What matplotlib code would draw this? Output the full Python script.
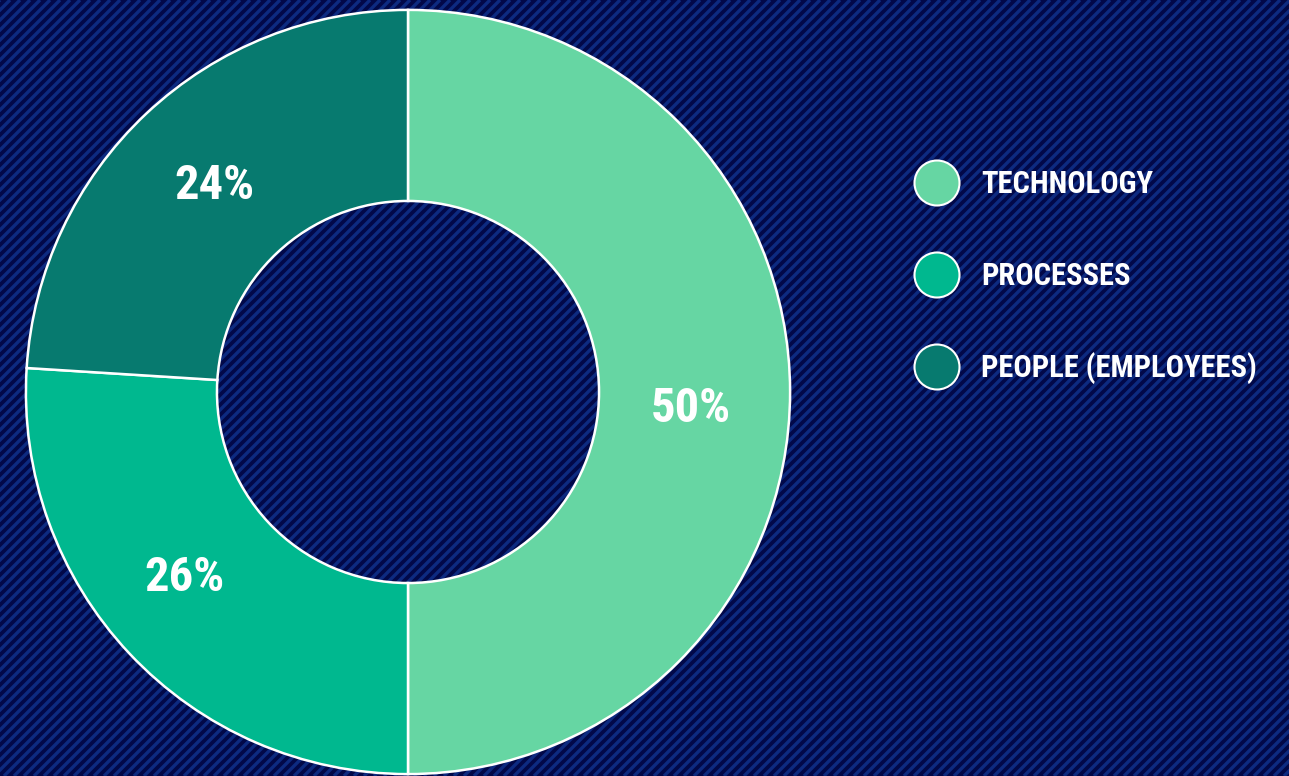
import matplotlib
matplotlib.use('Agg')
import matplotlib.pyplot as plt
from matplotlib.collections import LineCollection
from matplotlib import font_manager
import numpy as np

categories = ['TECHNOLOGY', 'PROCESSES', 'PEOPLE (EMPLOYEES)']
shares = [50, 26, 24]
colors = ['#66d6a3', '#00b88f', '#077a6f']

# pick a narrow face if one is around
names = {f.name for f in font_manager.fontManager.ttflist}
narrow = 'DejaVu Sans'
for fam in ['Roboto Condensed', 'Liberation Sans Narrow', 'DejaVu Sans Condensed',
            'Open Sans Condensed', 'Noto Sans Condensed']:
    if fam in names:
        narrow = fam
        break

W, H = 1289, 776
fig = plt.figure(figsize=(W / 100, H / 100), dpi=100)
fig.patch.set_facecolor('#020848')

# striped backdrop
bg = fig.add_axes([0, 0, 1, 1])
bg.set_xlim(0, W)
bg.set_ylim(0, H)
bg.axis('off')
segs = [[(x0, 0), (x0 + H, H)] for x0 in np.arange(-H, W, 10)]
bg.add_collection(LineCollection(segs, colors='#0d2a80', linewidths=2.4))

# donut
R = 384
ax = fig.add_axes([(408 - R) / W, (H - 392 - R) / H, 2 * R / W, 2 * R / H])
wedges, texts, autotexts = ax.pie(
    shares, colors=colors, startangle=90, counterclock=False,
    autopct='%d%%', pctdistance=0.74, radius=1,
    wedgeprops=dict(width=0.5, edgecolor='white', linewidth=1.8),
    textprops=dict(color='white', fontsize=35, fontweight='bold',
                   family=narrow))
# small nudges for the percentage labels
nudges = [(0.0, -0.045), (-0.045, 0.02), (0.0, 0.0)]
for t, (dx, dy) in zip(autotexts, nudges):
    x, y = t.get_position()
    t.set_position((x + dx, y + dy))
ax.set_xlim(-1.005, 1.005)
ax.set_ylim(-1.005, 1.005)
ax.set_aspect('equal')

# legend
lg = fig.add_axes([0, 0, 1, 1], facecolor='none')
lg.set_xlim(0, W)
lg.set_ylim(H, 0)
lg.axis('off')
for i, (lab, c) in enumerate(zip(categories, colors)):
    y = 183 + 92 * i
    lg.add_patch(plt.Circle((937, y), 22.5, facecolor=c, edgecolor='white', lw=1.5))
    lg.text(981, y + 1, lab, color='white', fontsize=22, fontweight='bold',
            family=narrow, va='center', ha='left')

fig.savefig('out.png', dpi=100, facecolor=fig.get_facecolor())
